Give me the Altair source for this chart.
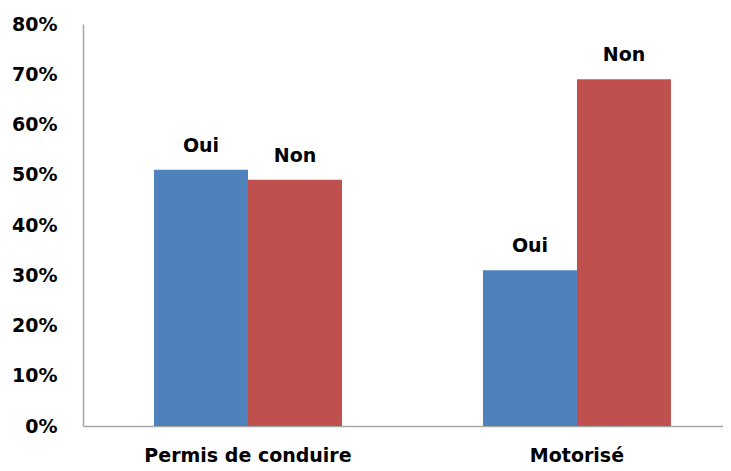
import altair as alt
import pandas as pd

categories = ["Permis de conduire", "Motorisé"]
series = ["Oui", "Non"]
oui = [51, 31]
non = [49, 69]
y_ticks = [0, 10, 20, 30, 40, 50, 60, 70, 80]
colors = ["#4F81BD", "#C0504D"]

rows = []
for i, c in enumerate(categories):
    rows.append({"cat": c, "rep": "Oui", "val": oui[i]})
    rows.append({"cat": c, "rep": "Non", "val": non[i]})
df = pd.DataFrame(rows)

FONT = "DejaVu Sans"

x = alt.X("cat:N", sort=categories, title=None,
          scale=alt.Scale(paddingInner=0.4286, paddingOuter=0.187, align=0.577),
          axis=alt.Axis(labelAngle=0, labelFont=FONT, labelFontSize=19, labelFontWeight="bold",
                        labelColor="#000000", tickSize=0, labelPadding=20, labelLimit=0,
                        domainColor="#A6A6A6", domainWidth=1.5))
xo = alt.XOffset("rep:N", sort=series, scale=alt.Scale(paddingInner=0, paddingOuter=0))
y = alt.Y("val:Q", title=None,
          scale=alt.Scale(domain=[0, 80], nice=False),
          axis=alt.Axis(values=y_ticks, labelExpr="datum.value + '%'", grid=False,
                        labelFont=FONT, labelFontSize=19, labelFontWeight="bold",
                        labelColor="#000000", tickSize=0, labelPadding=26,
                        domainColor="#A6A6A6", domainWidth=1.5))

bars = alt.Chart(df).mark_bar().encode(
    x=x, xOffset=xo, y=y,
    color=alt.Color("rep:N", sort=series, scale=alt.Scale(domain=series, range=colors), legend=None),
)
labels = alt.Chart(df).mark_text(font=FONT, fontSize=19, fontWeight="bold", color="#000000",
                                 baseline="alphabetic", dy=-18).encode(
    x=x, xOffset=xo, y=y, text="rep:N",
)

chart = alt.layer(bars, labels).properties(
    width=640, height=402,
    autosize=alt.AutoSizeParams(type="none"),
    padding={"left": 75, "top": 16, "right": 0, "bottom": 45},
).configure_view(stroke=None)

chart.save("out.html", embed_options={"renderer": "svg", "actions": False})
